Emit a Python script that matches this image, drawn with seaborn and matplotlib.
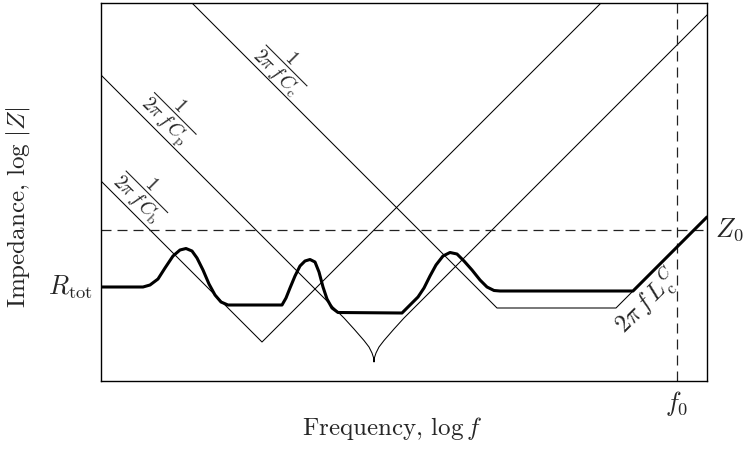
import matplotlib
matplotlib.use("Agg")
import matplotlib.pyplot as plt
import seaborn as sns

# Log-log impedance sketch; x and y are in decades of frequency / impedance.

# Thin asymptote for C_b together with the rising branch it meets
cb_x = [0.00, 1.61, 5.00]
cb_y = [2.00, 0.39, 3.78]

# Thin asymptote for C_p with the sharp series-resonance notch
cp_x = [0.00, 2.43, 2.53, 2.63, 2.68, 2.71, 2.725, 2.73,
        2.735, 2.75, 2.78, 2.83, 2.93, 3.03, 6.06]
cp_y = [3.06, 0.63, 0.52, 0.405, 0.34, 0.28, 0.235, 0.19,
        0.235, 0.28, 0.34, 0.405, 0.52, 0.63, 3.66]

# Thin asymptote for C_c, plateau and the L_c branch
cc_x = [0.91, 3.96, 5.15, 6.06]
cc_y = [3.78, 0.73, 0.73, 1.64]

# Total impedance (thick curve)
tot_x = [0.00, 0.42, 0.49, 0.57, 0.64, 0.72, 0.79, 0.85, 0.91, 0.96,
         1.02, 1.08, 1.14, 1.20, 1.27, 1.81, 1.85, 1.89, 1.94, 1.99,
         2.04, 2.09, 2.14, 2.18, 2.22, 2.26, 2.31, 2.37, 3.01, 3.09,
         3.17, 3.23, 3.29, 3.35, 3.42, 3.49, 3.56, 3.63, 3.71, 3.79,
         3.86, 3.93, 3.99, 5.32, 6.06]
tot_y = [0.94, 0.94, 0.96, 1.02, 1.13, 1.25, 1.31, 1.325, 1.30, 1.23,
         1.11, 0.97, 0.86, 0.79, 0.76, 0.76, 0.83, 0.93, 1.05, 1.15,
         1.20, 1.215, 1.19, 1.09, 0.94, 0.82, 0.73, 0.685, 0.68, 0.76,
         0.84, 0.93, 1.05, 1.16, 1.25, 1.285, 1.27, 1.20, 1.11, 1.01,
         0.94, 0.905, 0.90, 0.90, 1.64]

# Reference levels
z0_level = 1.51
f0_freq = 5.76
r_tot = 0.94

sns.set_theme(style="white")
plt.rcParams.update({
    "font.family": "serif",
    "font.serif": ["cmr10"],
    "mathtext.fontset": "cm",
    "axes.formatter.use_mathtext": True,
    "axes.edgecolor": "black",
    "axes.linewidth": 1.0,
})

fig = plt.figure(figsize=(7.44, 4.55), dpi=100)
ax = fig.add_axes([101 / 744, 74 / 455, 606 / 744, 378 / 455])

thin = dict(color="black", lw=0.75, sort=False, estimator=None, ax=ax)
sns.lineplot(x=cb_x, y=cb_y, **thin)
sns.lineplot(x=cp_x, y=cp_y, **thin)
sns.lineplot(x=cc_x, y=cc_y, **thin)

dash = (0, (8, 4.8))
ax.axhline(z0_level, color="#222222", lw=0.9, ls=dash)
ax.axvline(f0_freq, color="#222222", lw=0.9, ls=dash)

sns.lineplot(x=tot_x, y=tot_y, color="black", lw=2.2, sort=False,
             estimator=None, ax=ax, zorder=5)

ax.set_xlim(0, 6.06)
ax.set_ylim(0, 3.78)
ax.set_xticks([])
ax.set_yticks([])

fs = 18
ms = 19
ax.set_xlabel(r"Frequency, $\log f$", fontsize=fs)
ax.xaxis.set_label_coords(0.48, -0.09)
ax.set_ylabel(r"Impedance, $\log\,|Z|$", fontsize=fs)
ax.yaxis.set_label_coords(-0.114, 0.46)

lab = dict(rotation=-45, rotation_mode="anchor", ha="center",
           va="center", fontsize=14)
ax.text(1.82, 3.14, r"$\dfrac{1}{2\pi\, f\, C_{\rm c}}$", **lab)
ax.text(0.71, 2.66, r"$\dfrac{1}{2\pi\, f\, C_{\rm p}}$", **lab)
ax.text(0.43, 1.88, r"$\dfrac{1}{2\pi\, f\, C_{\rm b}}$", **lab)
ax.text(5.47, 0.79, r"$2\pi\, f\, L_{\rm c}^{C}$", rotation=45,
        rotation_mode="anchor", ha="center", va="center", fontsize=17.5)

ax.text(-0.08, r_tot, r"$R_{\rm tot}$", ha="right", va="center",
        fontsize=ms, clip_on=False)
ax.text(6.14, z0_level, r"$Z_0$", ha="left", va="center",
        fontsize=ms, clip_on=False)
ax.text(f0_freq, -0.23, r"$f_0$", ha="center", va="center",
        fontsize=ms, clip_on=False)

fig.savefig("out.png", dpi=100)
